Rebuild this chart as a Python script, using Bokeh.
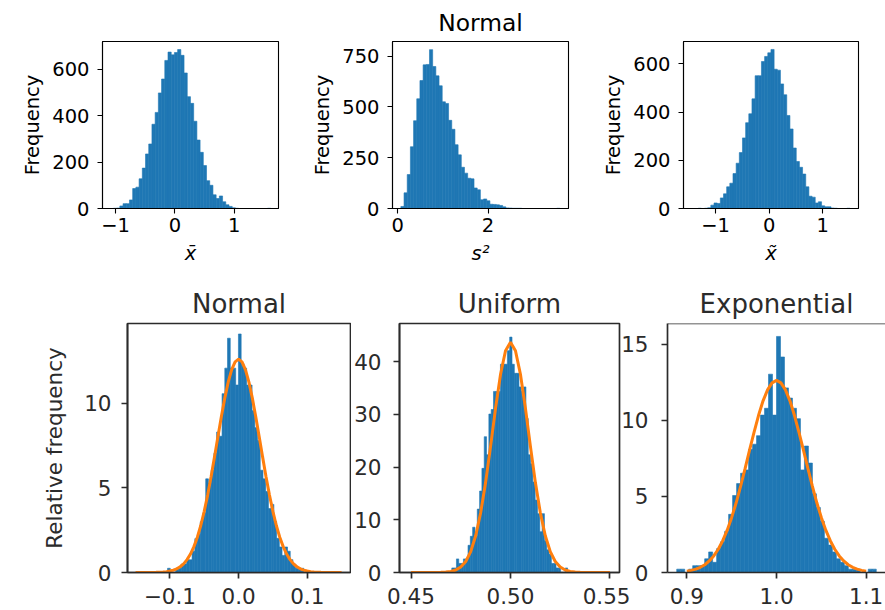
import numpy as np
from bokeh.plotting import figure
from bokeh.layouts import row, column
from bokeh.models import FixedTicker, Span
from bokeh.embed import file_html
from bokeh.resources import INLINE

# ---------------- data: top row (counts, 50 bins each) ----------------
xbar_range = (-1.09, 1.615)
xbar_counts = [0, 1, 2, 11, 21, 21, 37, 86, 92, 128,
               174, 235, 278, 363, 414, 498, 558, 638, 674, 662,
               672, 685, 660, 584, 482, 453, 376, 295, 242, 185,
               120, 100, 59, 43, 54, 29, 16, 9, 3, 1,
               0, 0, 0, 0, 0, 0, 0, 0, 0, 1]

s2_range = (0.07, 3.59)
s2_counts = [10, 77, 167, 304, 432, 540, 630, 707, 709, 782,
             699, 653, 604, 525, 517, 434, 390, 314, 264, 203,
             174, 149, 146, 101, 92, 43, 47, 38, 21, 20,
             18, 15, 8, 3, 2, 1, 1, 1, 0, 0,
             0, 0, 0, 0, 0, 0, 0, 0, 0, 1]

xtilde_range = (-1.441, 1.507)
xtilde_counts = [0, 0, 1, 0, 1, 3, 14, 23, 21, 44,
                 61, 90, 105, 145, 188, 232, 293, 356, 393, 455,
                 551, 551, 610, 631, 646, 660, 578, 574, 517, 472,
                 386, 330, 251, 195, 171, 143, 90, 51, 47, 23,
                 28, 11, 7, 7, 2, 1, 0, 0, 0, 1]

# ---------------- data: bottom row (relative frequency, 50 bins) ----------------
normal_range = (-0.1034, 0.0951)
normal_density = [0.25, 0, 0, 0.25, 0.25, 0.5, 0.5, 0.75, 0.75, 1.26,
                  2.0, 2.27, 3.0, 3.53, 5.54, 5.29, 6.05, 7.05, 8.31, 8.06,
                  10.58, 12.09, 13.86, 12.09, 12.09, 11.09, 14.11, 12.35, 12.09, 11.09,
                  11.09, 9.57, 8.57, 7.81, 6.05, 5.54, 4.79, 3.78, 4.03, 3.02,
                  2.02, 1.51, 1.01, 1.51, 1.26, 0.76, 0.5, 0.25, 0.25, 0.25]

uniform_range = (0.4705, 0.5287)
uniform_density = [0.86, 0.86, 2.58, 1.72, 1.72, 2.58, 2.58, 5.16, 6.87, 8.59,
                   6.87, 12.03, 15.46, 19.76, 25.77, 22.34, 30.07, 30.93, 34.36, 34.36,
                   34.36, 39.52, 39.52, 39.52, 42.1, 44.67, 39.52, 37.8, 37.8, 35.22,
                   34.36, 35.22, 29.21, 22.34, 20.62, 17.18, 13.75, 11.17, 7.73, 11.17,
                   6.01, 4.3, 3.44, 1.72, 1.72, 0.86, 0.86, 0, 0, 0.86]

expon_range = (0.8887, 1.1113)
expon_density = [0.22, 0.22, 0, 0.22, 0.45, 0.45, 0.45, 0.9, 1.35, 0.67,
                 1.57, 2.02, 2.7, 3.82, 5.06, 5.84, 6.52, 6.74, 8.09, 8.43,
                 8.99, 10.34, 10.79, 13.03, 10.34, 15.51, 14.16, 12.13, 11.46, 10.79,
                 10.11, 6.74, 8.31, 7.19, 5.17, 4.27, 3.37, 2.25, 1.8, 1.35,
                 0.9, 0.67, 0.45, 0.22, 0.22, 0.22, 0, 0, 0.22, 0.22]

# ---------------- orange curves ----------------
normal_curve_x = [-0.15, -0.145, -0.14, -0.135, -0.13, -0.125, -0.12, -0.115, -0.11, -0.105,
                  -0.1, -0.095, -0.09, -0.085, -0.08, -0.075, -0.07, -0.065, -0.06, -0.055,
                  -0.05, -0.045, -0.04, -0.035, -0.03, -0.025, -0.02, -0.015, -0.01, -0.005,
                  0.0, 0.005, 0.01, 0.015, 0.02, 0.025, 0.03, 0.035, 0.04, 0.045,
                  0.05, 0.055, 0.06, 0.065, 0.07, 0.075, 0.08, 0.085, 0.09, 0.095,
                  0.1, 0.105, 0.11, 0.115, 0.12, 0.125, 0.13, 0.135, 0.14, 0.145, 0.15]
normal_curve_y = [0.0, 0.0, 0.0, 0.001, 0.002, 0.005, 0.01, 0.017, 0.03, 0.05,
                  0.085, 0.14, 0.22, 0.34, 0.51, 0.76, 1.09, 1.53, 2.09, 2.78,
                  3.62, 4.58, 5.67, 6.84, 8.05, 9.23, 10.33, 11.28, 12.0, 12.46,
                  12.62, 12.46, 12.0, 11.28, 10.33, 9.23, 8.05, 6.84, 5.67, 4.58,
                  3.62, 2.78, 2.09, 1.53, 1.09, 0.76, 0.51, 0.34, 0.22, 0.14,
                  0.085, 0.05, 0.03, 0.017, 0.01, 0.005, 0.002, 0.001, 0.0, 0.0, 0.0]

uniform_curve_x = [0.45, 0.4525, 0.455, 0.4575, 0.46, 0.4625, 0.465, 0.4675, 0.47, 0.4725,
                   0.475, 0.4775, 0.48, 0.4825, 0.485, 0.4875, 0.49, 0.4925, 0.495, 0.4975,
                   0.5, 0.5025, 0.505, 0.5075, 0.51, 0.5125, 0.515, 0.5175, 0.52, 0.5225,
                   0.525, 0.5275, 0.53, 0.5325, 0.535, 0.5375, 0.54, 0.5425, 0.545, 0.5475, 0.55]
uniform_curve_y = [0.0, 0.0, 0.0, 0.0, 0.0, 0.01, 0.028, 0.077, 0.2, 0.47,
                   1.03, 2.09, 3.96, 6.96, 11.33, 17.11, 23.98, 31.19, 37.61, 42.09,
                   43.7, 42.09, 37.61, 31.19, 23.98, 17.11, 11.33, 6.96, 3.96, 2.09,
                   1.03, 0.47, 0.2, 0.077, 0.028, 0.01, 0.0, 0.0, 0.0, 0.0, 0.0]

expon_curve_x = [0.9, 0.905, 0.91, 0.915, 0.92, 0.925, 0.93, 0.935, 0.94, 0.945,
                 0.95, 0.955, 0.96, 0.965, 0.97, 0.975, 0.98, 0.985, 0.99, 0.995,
                 1.0, 1.005, 1.01, 1.015, 1.02, 1.025, 1.03, 1.035, 1.04, 1.045,
                 1.05, 1.055, 1.06, 1.065, 1.07, 1.075, 1.08, 1.085, 1.09, 1.095, 1.1]
expon_curve_y = [0.085, 0.14, 0.22, 0.34, 0.51, 0.76, 1.09, 1.53, 2.09, 2.78,
                 3.62, 4.58, 5.67, 6.84, 8.05, 9.23, 10.33, 11.28, 12.0, 12.46,
                 12.62, 12.46, 12.0, 11.28, 10.33, 9.23, 8.05, 6.84, 5.67, 4.58,
                 3.62, 2.78, 2.09, 1.53, 1.09, 0.76, 0.51, 0.34, 0.22, 0.14, 0.085]

# ---------------- ticks ----------------
xbar_xticks, xbar_xlabels = [-1, 0, 1], ["\u22121", "0", "1"]
xbar_yticks = [0, 200, 400, 600]
s2_xticks, s2_xlabels = [0, 2], ["0", "2"]
s2_yticks = [0, 250, 500, 750]
xtilde_xticks, xtilde_xlabels = [-1, 0, 1], ["\u22121", "0", "1"]
xtilde_yticks = [0, 200, 400, 600]
normal_xticks, normal_xlabels = [-0.1, 0.0, 0.1], ["\u22120.1", "0.0", "0.1"]
normal_yticks = [0, 5, 10]
uniform_xticks, uniform_xlabels = [0.45, 0.5, 0.55], ["0.45", "0.50", "0.55"]
uniform_yticks = [0, 10, 20, 30, 40]
expon_xticks, expon_xlabels = [0.9, 1.0, 1.1], ["0.9", "1.0", "1.1"]
expon_yticks = [0, 5, 10, 15]

BLUE = "#1f77b4"
ORANGE = "#ff7f0e"
FONT = "DejaVu Sans"


def make_fig(width, height, xr, yr, borders, fs, color, lw, tick_out,
             x_standoff, y_standoff, xticks, xlabels, yticks,
             title=None, title_fs=None, xlabel=None, ylabel=None,
             outline=True, margin=None):
    left, right, top, bottom = borders
    kw = {}
    if margin is not None:
        kw["margin"] = margin
    p = figure(width=width, height=height, x_range=xr, y_range=yr,
               output_backend="svg", toolbar_location=None,
               min_border_left=left, min_border_right=right,
               min_border_top=top, min_border_bottom=bottom, **kw)
    p.grid.visible = False
    p.border_fill_color = None
    p.background_fill_color = "white"
    if outline:
        p.outline_line_color = color
        p.outline_line_width = lw
        p.outline_line_alpha = 1.0
    else:
        p.outline_line_color = None
    for ax in (p.xaxis[0], p.yaxis[0]):
        ax.axis_line_color = color
        ax.axis_line_width = lw
        ax.major_tick_line_color = color
        ax.major_tick_line_width = lw
        ax.major_tick_out = tick_out
        ax.major_tick_in = 0
        ax.minor_tick_line_color = None
        ax.major_label_text_font = FONT
        ax.major_label_text_font_size = fs
        ax.major_label_text_color = color
        ax.axis_label_text_font = FONT
        ax.axis_label_text_font_size = fs
        ax.axis_label_text_color = color
        ax.axis_label_text_font_style = "normal"
    p.xaxis.ticker = FixedTicker(ticks=xticks)
    p.xaxis.major_label_overrides = {t: l for t, l in zip(xticks, xlabels)}
    p.yaxis.ticker = FixedTicker(ticks=yticks)
    p.xaxis.major_label_standoff = x_standoff
    p.yaxis.major_label_standoff = y_standoff
    if xlabel:
        p.xaxis.axis_label = xlabel
        p.xaxis.axis_label_text_font_style = "italic"
        p.xaxis.axis_label_standoff = 7
    if ylabel:
        p.yaxis.axis_label = ylabel
    if title:
        p.title.text = title
        p.title.align = "center"
        p.title.text_font = FONT
        p.title.text_font_size = title_fs
        p.title.text_font_style = "normal"
        p.title.text_color = color
    return p


def add_hist(p, rng, heights):
    edges = np.linspace(rng[0], rng[1], len(heights) + 1)
    p.quad(left=edges[:-1], right=edges[1:], bottom=0, top=heights,
           fill_color=BLUE, line_color=BLUE, line_width=0.6)


TOP_FS = "19.5px"
# ---- top row ----
t1 = make_fig(290, 280, (-1.22, 1.746), (0, 719.6), (102, 12, 41, 72), TOP_FS, "black", 1.1, 5,
              4, 8, xbar_xticks, xbar_xlabels, xbar_yticks,
              xlabel="x\u0304", ylabel="Frequency")
add_hist(t1, xbar_range, xbar_counts)

t2 = make_fig(290, 280, (-0.115, 3.78), (0, 822), (102, 12, 41, 72), TOP_FS, "black", 1.1, 5,
              4, 8, s2_xticks, s2_xlabels, s2_yticks,
              title="Normal", title_fs="23.4px", xlabel="s\u00b2", ylabel="Frequency")
add_hist(t2, s2_range, s2_counts)

t3 = make_fig(305, 280, (-1.597, 1.665), (0, 693), (103, 27, 41, 72), TOP_FS, "black", 1.1, 5,
              4, 8, xtilde_xticks, xtilde_xlabels, xtilde_yticks,
              xlabel="x\u0303", ylabel="Frequency")
add_hist(t3, xtilde_range, xtilde_counts)

# ---- bottom row ----
BOT_FS = "21.5px"
BOT_C = "#2b2b2b"
b1 = make_fig(351, 330, (-0.1617, 0.163), (0, 14.73), (127, 1, 43, 38), BOT_FS, BOT_C, 1.7, 6,
              9, 10, normal_xticks, normal_xlabels, normal_yticks,
              title="Normal", title_fs="26px", ylabel="Relative frequency")
b1.yaxis.axis_label_standoff = 14
add_hist(b1, normal_range, normal_density)
b1.line(normal_curve_x, normal_curve_y, line_color=ORANGE, line_width=3)

b2 = make_fig(279, 330, (0.4442, 0.5548), (0, 47.25), (43, 11, 43, 38), BOT_FS, BOT_C, 1.7, 6,
              9, 12, uniform_xticks, uniform_xlabels, uniform_yticks,
              title="Uniform", title_fs="26px")
add_hist(b2, uniform_range, uniform_density)
b2.line(uniform_curve_x, uniform_curve_y, line_color=ORANGE, line_width=3)

b3 = make_fig(267, 330, (0.8784, 1.1216), (0, 16.36), (45, 0, 43, 38), BOT_FS, BOT_C, 1.7, 6,
              9, 13, expon_xticks, expon_xlabels, expon_yticks,
              title="Exponential", title_fs="26px", outline=False, margin=(0, 0, 0, -12))
add_hist(b3, expon_range, expon_density)
b3.line(expon_curve_x, expon_curve_y, line_color=ORANGE, line_width=3)
b3.add_layout(Span(location=16.36, dimension="width", line_color=BOT_C, line_width=1.7))

layout = column(row(t1, t2, t3), row(b1, b2, b3))
open("out.html", "w").write(file_html(layout, INLINE))
